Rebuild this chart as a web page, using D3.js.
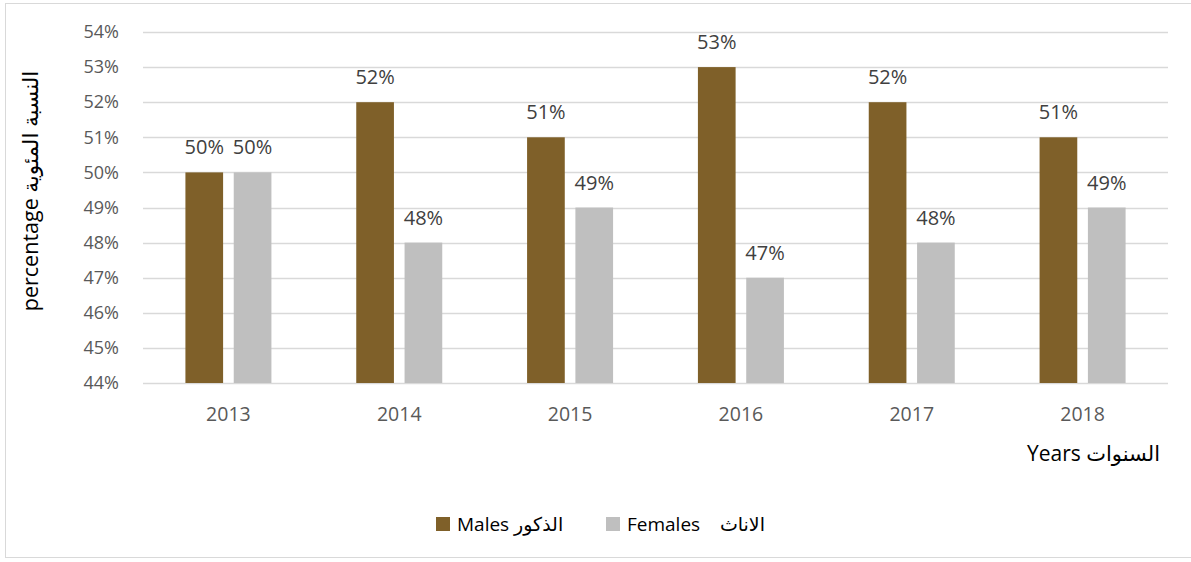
<!DOCTYPE html>
<html>
<head>
<meta charset="utf-8">
<script src="https://cdn.jsdelivr.net/npm/d3@7"></script>
<style>
  body { margin: 0; background: #fff; }
  text { font-family: "Open Sans", "DejaVu Sans", sans-serif; }
</style>
</head>
<body>
<div id="chart"></div>
<script>
const years = ["2013", "2014", "2015", "2016", "2017", "2018"];
const males = [50, 52, 51, 53, 52, 51];
const females = [50, 48, 49, 47, 48, 49];
const seriesNames = ["Males الذكور", "Females\u00a0\u00a0\u00a0 الاناث"];
const yTicks = [44, 45, 46, 47, 48, 49, 50, 51, 52, 53, 54];

const svgWidth = 1191;
const svgHeight = 562;
const margin = {top: 32, left: 143, right: 23, bottom: 179};
const chartWidth = svgWidth - margin.left - margin.right;
const chartHeight = svgHeight - margin.top - margin.bottom;
const colors = ["#7f6029", "#bfbfbf"];

const svg = d3.select("#chart")
    .append("svg")
        .attr("width", svgWidth)
        .attr("height", svgHeight);

// frame
svg.append("rect")
    .attr("x", 5.5)
    .attr("y", 3.5)
    .attr("width", 1200)
    .attr("height", 554)
    .attr("fill", "none")
    .attr("stroke", "#d9d9d9");

const chart = svg.append("g")
    .attr("transform", `translate(${margin.left}, ${margin.top})`);

// scales
const xScale = d3.scaleBand()
    .domain(years)
    .range([0, chartWidth]);

const inner = d3.scaleBand()
    .domain([0, 1])
    .range([xScale.bandwidth() / 2 - 43, xScale.bandwidth() / 2 + 43])
    .paddingInner(0.22);

const yScale = d3.scaleLinear()
    .domain([44, 54])
    .range([chartHeight, 0]);

// gridlines
chart.append("g")
    .selectAll("line")
    .data(yTicks)
    .join("line")
        .attr("x1", 0)
        .attr("x2", chartWidth)
        .attr("y1", d => Math.round(yScale(d)) + 0.5)
        .attr("y2", d => Math.round(yScale(d)) + 0.5)
        .attr("stroke", "#d9d9d9")
        .attr("stroke-width", 1.3);

// y axis
const yAxis = d3.axisLeft(yScale)
    .tickValues(yTicks)
    .tickFormat(d => d + "%")
    .tickSize(0)
    .tickPadding(24);

const yAxisGroup = chart.append("g").call(yAxis);
yAxisGroup.select(".domain").remove();
yAxisGroup.selectAll("text")
    .attr("fill", "#595959")
    .style("font-size", "18px");

// x axis
const xAxis = d3.axisBottom(xScale)
    .tickSize(0)
    .tickPadding(24);

const xAxisGroup = chart.append("g")
    .attr("transform", `translate(0, ${chartHeight})`)
    .call(xAxis);
xAxisGroup.select(".domain").remove();
xAxisGroup.selectAll("text")
    .attr("fill", "#595959")
    .style("font-size", "19.5px");

// bars
const seriesData = [males, females];
seriesData.forEach((vals, s) => {
    const g = chart.append("g");
    g.selectAll("rect")
        .data(vals)
        .join("rect")
            .attr("x", (d, i) => xScale(years[i]) + inner(s))
            .attr("y", d => yScale(d))
            .attr("width", inner.bandwidth())
            .attr("height", d => chartHeight - yScale(d))
            .attr("fill", colors[s]);

    g.selectAll("text")
        .data(vals)
        .join("text")
            .attr("x", (d, i) => xScale(years[i]) + inner(s) + inner.bandwidth() / 2)
            .attr("y", d => yScale(d) - 18)
            .attr("text-anchor", "middle")
            .attr("fill", "#404040")
            .style("font-size", "20px")
            .text(d => d + "%");
});

// axis titles
chart.append("text")
    .attr("transform", "rotate(-90)")
    .attr("text-anchor", "middle")
    .attr("x", -159)
    .attr("y", -105)
    .attr("fill", "#000")
    .style("font-size", "21.5px")
    .text("percentage النسبة المئوية");

svg.append("text")
    .attr("text-anchor", "end")
    .attr("x", 1160)
    .attr("y", 461)
    .attr("fill", "#000")
    .style("font-size", "21px")
    .text("Years السنوات");

// legend
const legendX = [436, 606];
const legend = svg.append("g");
seriesNames.forEach((name, s) => {
    legend.append("rect")
        .attr("x", legendX[s])
        .attr("y", 517)
        .attr("width", 14)
        .attr("height", 14)
        .attr("fill", colors[s]);
    legend.append("text")
        .attr("x", legendX[s] + 21)
        .attr("y", 531)
        .attr("fill", "#000")
        .style("font-size", "19px")
        .text(name);
});
</script>
</body>
</html>
